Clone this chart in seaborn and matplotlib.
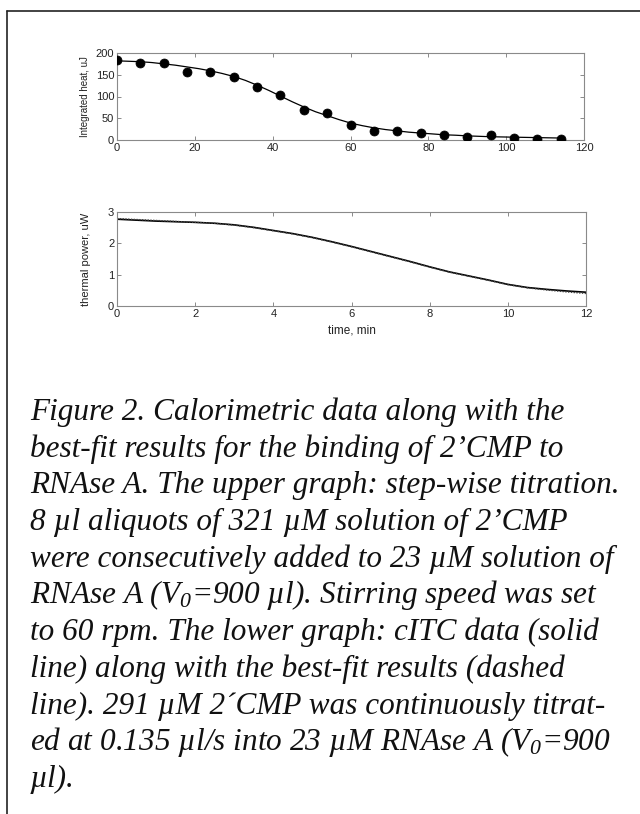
import numpy as np
import pandas as pd
import seaborn as sns
import matplotlib.pyplot as plt
from matplotlib.lines import Line2D

# upper graph: step-wise titration (integrated heat per injection)
inj_time = [0, 6, 12, 18, 24, 30, 36, 42, 48, 54, 60, 66, 72, 78, 84, 90, 96, 102, 108, 114]
inj_heat = [183, 178, 176, 157, 157, 145, 121, 103, 70, 62, 35, 20, 20, 16, 12, 8, 11, 5, 2, 2]

fit_time = [0, 3, 6, 9, 12, 15, 18, 21, 24, 27, 30, 33, 36, 39, 42, 45, 48, 51, 54, 57,
            60, 63, 66, 69, 72, 75, 78, 81, 84, 87, 90, 93, 96, 99, 102, 105, 108, 111, 114]
fit_heat = [182, 181, 180, 178, 175, 172, 168, 164, 159, 153, 146, 137, 126, 114, 101, 88, 76, 65, 56, 47,
            39, 33, 28, 24, 21, 18, 16, 14, 12, 11, 9.5, 8.5, 7.5, 7, 6.5, 6, 5.5, 5, 4.5]

# lower graph: cITC trace and best fit
citc_time = [0, 0.5, 1, 1.5, 2, 2.5, 3, 3.5, 4, 4.5, 5, 5.5, 6, 6.5, 7, 7.5, 8, 8.5, 9, 9.5, 10, 10.5, 11, 11.5, 12]
citc_power = [2.77, 2.74, 2.71, 2.69, 2.67, 2.64, 2.59, 2.51, 2.41, 2.31, 2.19, 2.05, 1.90, 1.74, 1.58, 1.42, 1.25, 1.09, 0.96, 0.83, 0.69, 0.59, 0.53, 0.48, 0.44]
citc_fit = [2.79, 2.76, 2.73, 2.70, 2.67, 2.64, 2.58, 2.50, 2.40, 2.30, 2.18, 2.04, 1.89, 1.73, 1.57, 1.41, 1.24, 1.08, 0.95, 0.82, 0.68, 0.58, 0.51, 0.45, 0.40]

caption = [
    "Figure 2. Calorimetric data along with the",
    "best-fit results for the binding of 2\u2019CMP to",
    "RNAse A. The upper graph: step-wise titration.",
    "8 \u00b5l aliquots of 321 \u00b5M solution of 2\u2019CMP",
    "were consecutively added to 23 \u00b5M solution of",
    "RNAse A ($V_0$=900 \u00b5l). Stirring speed was set",
    "to 60 rpm. The lower graph: cITC data (solid",
    "line) along with the best-fit results (dashed",
    "line). 291 \u00b5M 2\u00b4CMP was continuously titrat-",
    "ed at 0.135 \u00b5l/s into 23 \u00b5M RNAse A ($V_0$=900",
    "\u00b5l).",
]

sns.set_theme(style="ticks")
plt.rcParams['font.family'] = ['Liberation Sans', 'DejaVu Sans']
plt.rcParams['mathtext.fontset'] = 'custom'
plt.rcParams['mathtext.rm'] = 'Liberation Serif:italic'
plt.rcParams['mathtext.it'] = 'Liberation Serif:italic'

W, H = 640, 814
fig = plt.figure(figsize=(W / 100, H / 100), dpi=100)


def px_axes(l, t, r, b):
    return fig.add_axes([l / W, 1 - b / H, (r - l) / W, (b - t) / H])


def style(ax):
    for s in ax.spines.values():
        s.set_color("#8a8a8a")
        s.set_linewidth(0.8)
    ax.tick_params(direction="in", length=3, width=0.7, color="#8a8a8a",
                   labelsize=8, pad=2, top=True, right=True, labelcolor="#222222")


ax1 = px_axes(117, 53, 584, 140)
sns.lineplot(x=fit_time, y=fit_heat, ax=ax1, color="black", linewidth=0.9)
sns.scatterplot(x=inj_time, y=inj_heat, ax=ax1, color="black", s=42, edgecolor="black", zorder=3)
ax1.set_xlim(0, 120)
ax1.set_ylim(0, 200)
ax1.set_xticks(range(0, 121, 20))
ax1.set_yticks(range(0, 201, 50))
ax1.set_ylabel("Integrated heat, uJ", fontsize=7, labelpad=4, color="#222222")
style(ax1)

ax2 = px_axes(117, 212, 586, 306)
df = pd.DataFrame({"t": citc_time, "p": citc_power, "f": citc_fit})
sns.lineplot(data=df, x="t", y="p", ax=ax2, color="black", linewidth=1.2)
sns.lineplot(data=df, x="t", y="f", ax=ax2, color="#444444", linewidth=1.0, linestyle=(0, (1, 1)))
ax2.set_xlim(0, 12)
ax2.set_ylim(0, 3)
ax2.set_xticks(range(0, 13, 2))
ax2.set_yticks([0, 1, 2, 3])
ax2.set_xlabel("time, min", fontsize=8.5, labelpad=4, color="#222222")
ax2.set_ylabel("thermal power, uW", fontsize=8, labelpad=12, color="#222222")
style(ax2)

# page frame
fig.add_artist(Line2D([7 / W, 1], [1 - 11 / H, 1 - 11 / H], color="#222222", linewidth=1.2))
fig.add_artist(Line2D([7 / W, 7 / W], [0, 1 - 11 / H], color="#222222", linewidth=1.2))

for i, line in enumerate(caption):
    y = 420 + i * 36.7
    fig.text(30 / W, 1 - y / H, line, fontsize=22.5, family="Liberation Serif",
             style="italic", color="#111111", va="baseline", ha="left")

fig.savefig("out.png", dpi=100)
